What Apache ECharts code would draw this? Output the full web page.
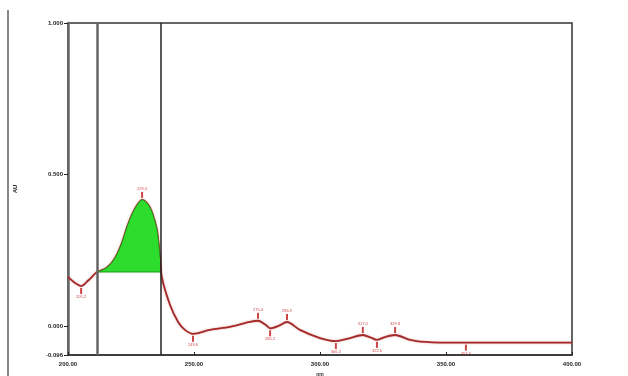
<!DOCTYPE html>
<html><head><meta charset="utf-8">
<script src="https://cdn.jsdelivr.net/npm/echarts@6/dist/echarts.min.js"></script>
<style>html,body{margin:0;padding:0;background:#fff}#c{width:628px;height:376px}</style>
</head><body><div id="c"></div>
<script>
// spectrum (wavelength nm, absorbance AU)
const wavelengths = [200,202.8,205.2,207.9,211.5,213.5,215.5,217.5,219.5,221.5,223.5,225.5,227.5,229.4,231.5,233.3,235.3,236.5,237.3,240.5,243.7,246.4,249.6,256.3,264.3,272.2,275.4,278.5,280.2,283.5,286.9,292,300,306.3,311.9,317,320,322.6,326,329.8,335.7,341.7,347.6,357.9,400];
const absorbance  = [0.162,0.142,0.132,0.149,0.178,0.184,0.193,0.210,0.237,0.277,0.328,0.370,0.400,0.416,0.404,0.376,0.317,0.225,0.158,0.069,0.013,-0.013,-0.026,-0.013,-0.003,0.013,0.017,0.003,-0.008,0.0,0.013,-0.013,-0.040,-0.050,-0.040,-0.030,-0.038,-0.046,-0.036,-0.030,-0.046,-0.053,-0.055,-0.055,-0.055];
// integrated band between the two markers
const bandStart = 211.5, bandEnd = 236.5, bandBase = 0.178;
const markerLines = [211.8, 236.9];
const peaks  = [[229.4,0.416],[275.4,0.017],[286.9,0.013],[317,-0.030],[329.8,-0.030]];
const minima = [[205.2,0.132],[249.6,-0.026],[280.2,-0.008],[306.3,-0.050],[322.6,-0.046],[357.9,-0.055]];
const yLabelValues = [-0.096, 0, 0.5, 1.0];
const xTicks = [200,250,300,350,400];

const mainData = wavelengths.map((w,i)=>[w,absorbance[i]]);
const bandData = mainData.filter(d=>d[0]>=bandStart && d[0]<=bandEnd);

const chart = echarts.init(document.getElementById('c'));
chart.setOption({
  animation:false,
  grid:{left:68,right:56,top:23,bottom:21,show:true,borderColor:'#333',borderWidth:1.5,outerBoundsMode:'none',containLabel:false},
  xAxis:{type:'value',min:200,max:400,interval:50,name:'nm',nameLocation:'middle',nameGap:17,
    nameTextStyle:{fontSize:5,fontWeight:'bold',color:'#333'},
    axisLine:{onZero:false,lineStyle:{color:'#333',width:1.5}},
    axisTick:{inside:true,length:3,lineStyle:{color:'#222'}},
    axisLabel:{fontSize:6,fontWeight:'bold',color:'#222',margin:6,formatter:v=>v.toFixed(2)},
    splitLine:{show:false}},
  yAxis:{type:'value',min:-0.096,max:1.0,name:'AU',nameLocation:'middle',nameGap:50,nameRotate:90,
    nameTextStyle:{fontSize:6,fontWeight:'bold',color:'#222'},
    axisLine:{show:true,onZero:false,lineStyle:{color:'#666',width:2.5}},
    axisTick:{show:true,length:4,customValues:yLabelValues,lineStyle:{color:'#222'}},
    axisLabel:{fontSize:6,fontWeight:'bold',color:'#222',margin:5,customValues:yLabelValues,formatter:v=>v.toFixed(3)},
    splitLine:{show:false}},
  series:[
    {type:'line',data:mainData,smooth:0.3,symbol:'none',z:3,
      lineStyle:{color:'#a52a2a',width:1.8,shadowColor:'rgba(200,80,80,0.5)',shadowBlur:2},
      markLine:{silent:true,symbol:'none',label:{show:false},
        data:[{xAxis:markerLines[0],lineStyle:{color:'#666',width:2.5,type:'solid'}},
              {xAxis:markerLines[1],lineStyle:{color:'#222',width:1.5,type:'solid'}}]}},
    {type:'line',data:bandData,smooth:0.3,symbol:'none',z:4,
      lineStyle:{color:'#1a9a1a',width:0.8},
      areaStyle:{color:'#2ddc2d',opacity:1,origin:bandBase}},
    {type:'line',data:[[bandStart,bandBase],[bandEnd,bandBase]],symbol:'none',z:4,
      lineStyle:{color:'#1a9a1a',width:1}},
    {type:'scatter',data:peaks,symbol:'rect',symbolSize:[2,6],symbolOffset:[0,-5],z:5,
      itemStyle:{color:'#c01818'},
      label:{show:true,position:'top',distance:1,fontSize:4,color:'#c01818',formatter:p=>p.value[0].toFixed(1)}},
    {type:'scatter',data:minima,symbol:'rect',symbolSize:[2,6],symbolOffset:[0,5],z:5,
      itemStyle:{color:'#c01818'},
      label:{show:true,position:'bottom',distance:1,fontSize:4,color:'#c01818',formatter:p=>p.value[0].toFixed(1)}}
  ],
  graphic:[{type:'line',shape:{x1:8,y1:10,x2:8,y2:376},style:{stroke:'#888',lineWidth:2}}]
});
</script></body></html>
